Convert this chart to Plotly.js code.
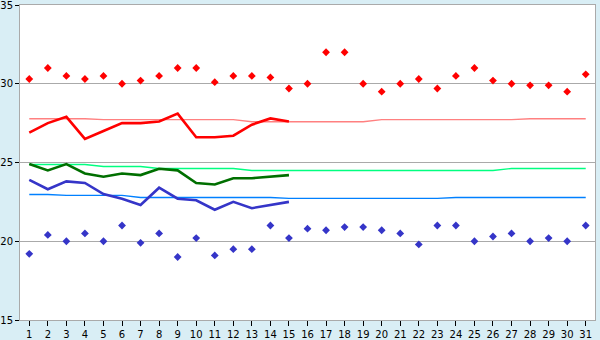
<!DOCTYPE html>
<html>
<head>
<meta charset="utf-8">
<script src="https://cdn.plot.ly/plotly-3.0.1.min.js"></script>
<style>
  html, body { margin: 0; padding: 0; background: #d9eef5; }
  #chart { width: 600px; height: 340px; }
</style>
</head>
<body>
<div id="chart"></div>
<script>
const days = [1,2,3,4,5,6,7,8,9,10,11,12,13,14,15,16,17,18,19,20,21,22,23,24,25,26,27,28,29,30,31];
const maxTemp = [30.3,31.0,30.5,30.3,30.5,30.0,30.2,30.5,31.0,31.0,30.1,30.5,30.5,30.4,29.7,30.0,32.0,32.0,30.0,29.5,30.0,30.3,29.7,30.5,31.0,30.2,30.0,29.9,29.9,29.5,30.6];
const minTemp = [19.2,20.4,20.0,20.5,20.0,21.0,19.9,20.5,19.0,20.2,19.1,19.5,19.5,21.0,20.2,20.8,20.7,20.9,20.9,20.7,20.5,19.8,21.0,21.0,20.0,20.3,20.5,20.0,20.2,20.0,21.0];
const avgDays = [1,2,3,4,5,6,7,8,9,10,11,12,13,14,15];
const avgMax = [26.9,27.5,27.9,26.5,27.0,27.5,27.5,27.6,28.1,26.6,26.6,26.7,27.4,27.8,27.6];
const avgMean = [24.9,24.5,24.9,24.3,24.1,24.3,24.2,24.6,24.5,23.7,23.6,24.0,24.0,24.1,24.2];
const avgMin = [23.9,23.3,23.8,23.7,23.0,22.7,22.3,23.4,22.7,22.6,22.0,22.5,22.1,22.3,22.5];
const normMax = [27.78,27.78,27.78,27.78,27.72,27.72,27.72,27.72,27.72,27.72,27.72,27.72,27.59,27.59,27.59,27.59,27.59,27.59,27.59,27.72,27.72,27.72,27.72,27.72,27.72,27.72,27.72,27.78,27.78,27.78,27.78];
const normMean = [24.87,24.87,24.87,24.87,24.75,24.75,24.75,24.62,24.62,24.62,24.62,24.62,24.49,24.49,24.49,24.49,24.49,24.49,24.49,24.49,24.49,24.49,24.49,24.49,24.49,24.49,24.62,24.62,24.62,24.62,24.62];
const normMin = [22.97,22.97,22.91,22.91,22.91,22.91,22.78,22.78,22.78,22.78,22.78,22.78,22.78,22.78,22.72,22.72,22.72,22.72,22.72,22.72,22.72,22.72,22.72,22.78,22.78,22.78,22.78,22.78,22.78,22.78,22.78];
const yTicks = [15,20,25,30,35];

const traces = [
  {x: days, y: normMax, mode: 'lines', line: {color: '#ff8080', width: 1.4}},
  {x: days, y: normMean, mode: 'lines', line: {color: '#00ff80', width: 1.4}},
  {x: days, y: normMin, mode: 'lines', line: {color: '#0080ff', width: 1.4}},
  {x: avgDays, y: avgMax, mode: 'lines', line: {color: '#ff0000', width: 2.6}},
  {x: avgDays, y: avgMean, mode: 'lines', line: {color: '#006f00', width: 2.6}},
  {x: avgDays, y: avgMin, mode: 'lines', line: {color: '#3535c8', width: 2.6}},
  {x: days, y: maxTemp, mode: 'markers', marker: {symbol: 'diamond', size: 6, color: '#ff0000'}},
  {x: days, y: minTemp, mode: 'markers', marker: {symbol: 'diamond', size: 6, color: '#3535c8'}}
];

const layout = {
  width: 600, height: 340,
  margin: {l: 20, r: 5, t: 5, b: 20, pad: 0},
  paper_bgcolor: '#d9eef5',
  plot_bgcolor: '#ffffff',
  showlegend: false,
  font: {family: 'DejaVu Sans, Verdana, sans-serif', size: 10, color: '#000000'},
  xaxis: {
    range: [0.5, 31.5], tickmode: 'array', tickvals: days, ticktext: days.map(String),
    showgrid: false, zeroline: false, showline: true, mirror: true,
    linecolor: '#aaaaaa', linewidth: 1,
    ticks: 'outside', ticklen: 5, tickwidth: 1, tickcolor: '#000000',
    ticklabeloverflow: 'allow',
    automargin: false, fixedrange: true
  },
  yaxis: {
    range: [15, 35], tickmode: 'array', tickvals: yTicks, ticktext: yTicks.map(String),
    showgrid: true, gridcolor: '#aaaaaa', gridwidth: 1, zeroline: false,
    showline: true, mirror: true, linecolor: '#aaaaaa', linewidth: 1,
    ticks: 'outside', ticklen: 4, tickwidth: 1, tickcolor: '#000000',
    ticklabeloverflow: 'allow',
    automargin: false, fixedrange: true
  },
  hovermode: false
};

Plotly.newPlot('chart', traces, layout, {displayModeBar: false, staticPlot: true});
</script>
</body>
</html>
